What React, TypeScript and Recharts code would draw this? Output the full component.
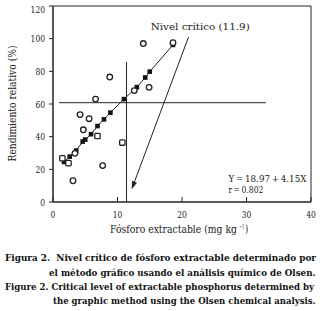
import { ReferenceArea, ReferenceDot, ReferenceLine, Scatter, ScatterChart, XAxis, YAxis } from "recharts";

const serif = "'DejaVu Serif', serif";
const ink = "#222";

const xTicks = [0, 10, 20, 30, 40];
const yTicks = [0, 20, 40, 60, 80, 100, 120];

// observed points (open circles)
const circleX = [14.0, 18.6, 8.8, 6.6, 12.6, 14.9, 4.2, 5.6, 4.7, 3.4, 7.7, 3.1];
const circleY = [97, 97.5, 76.5, 63, 68.2, 70.2, 53.5, 51, 44.2, 29.8, 22.3, 13];

// observed points (open squares)
const squareX = [1.45, 2.4, 6.9, 10.75];
const squareY = [26.8, 23.8, 40.4, 36.4];

// fitted values on the regression line
const fitX = [1.7, 2.6, 3.6, 4.6, 5.0, 5.9, 6.9, 7.9, 8.9, 11.0, 13.0, 14.3, 15.0, 18.6];
const fitY = [24.5, 27.8, 31.5, 37, 38.2, 41.5, 46.5, 50.6, 54.7, 63, 70.3, 76.2, 79.8, 96.2];

// critical level guide lines and arrow
const critX = 11.4;
const critTop = 85.7;
const critY = 60.8;
const hLineFrom = 0.93;
const hLineTo = 33;
const arrowFrom = { x: 21, y: 100.9 };
const arrowTo = { x: 12.2, y: 7.8 };

const pts = (xs: number[], ys: number[]) => xs.map((x, i) => ({ x, y: ys[i] }));
const circles = pts(circleX, circleY);
const squares = pts(squareX, squareY);
const fitted = pts(fitX, fitY);

const OpenCircle = (p: any) => (
  <circle cx={p.cx} cy={p.cy} r={2.8} fill="#fff" stroke={ink} strokeWidth={1.3} />
);
const OpenSquare = (p: any) => (
  <rect x={p.cx - 2.7} y={p.cy - 2.7} width={5.4} height={5.4} rx={1} fill="#fff" stroke={ink} strokeWidth={1.3} />
);
const FilledSquare = (p: any) => (
  <rect x={p.cx - 2.3} y={p.cy - 2.3} width={4.6} height={4.6} fill="#111" />
);

const Arrow = (p: any) => {
  const { x1, y1, x2, y2 } = p;
  const a = Math.atan2(y2 - y1, x2 - x1);
  const len = 8;
  const w = 2.6;
  const bx = x2 - len * Math.cos(a);
  const by = y2 - len * Math.sin(a);
  const nx = -Math.sin(a) * w;
  const ny = Math.cos(a) * w;
  return (
    <g>
      <line x1={x1} y1={y1} x2={bx} y2={by} stroke={ink} strokeWidth={1} />
      <polygon points={`${x2},${y2} ${bx + nx},${by + ny} ${bx - nx},${by - ny}`} fill={ink} />
    </g>
  );
};

// DejaVu Serif is much wider than the Times face of the original, so texts are squeezed to the original widths
const squeeze = { lengthAdjust: "spacingAndGlyphs" as const };

const XTick = (p: any) => {
  const s = String(p.payload.value);
  return (
    <text x={p.x} y={p.y} dy="0.71em" textAnchor="middle" fontFamily={serif} fontSize={10} fill={ink} textLength={s.length * 4.8} {...squeeze}>
      {s}
    </text>
  );
};

const YTick = (p: any) => {
  const s = String(p.payload.value);
  return (
    <text x={p.x} y={p.y} dy="0.36em" textAnchor="end" fontFamily={serif} fontSize={10} fill={ink} textLength={s.length * 4.8} {...squeeze}>
      {s}
    </text>
  );
};

const note = (text: string, width: number) => (props: any) => {
  const vb = props.viewBox;
  return (
    <text x={vb.x} y={vb.y} fontFamily={serif} fontSize={10} fill={ink} textLength={width} {...squeeze}>
      {text}
    </text>
  );
};

const YTitle = (props: any) => {
  const vb = props.viewBox;
  const cx = vb.x + 12.5;
  const cy = vb.y + vb.height / 2 - 0.5;
  return (
    <text x={cx} y={cy} dy="0.35em" textAnchor="middle" transform={`rotate(-90 ${cx} ${cy})`} fontFamily={serif} fontSize={10.5} fill={ink} textLength={116} {...squeeze}>
      Rendimiento relativo (%)
    </text>
  );
};

const XTitle = (props: any) => {
  const vb = props.viewBox;
  const x0 = vb.x + 57;
  const y0 = vb.y + 31.3;
  return (
    <g fontFamily={serif} fill={ink}>
      <text x={x0} y={y0} fontSize={10.5} textLength={127} {...squeeze}>
        Fósforo extractable (mg kg
      </text>
      <text x={x0 + 129.5} y={y0 - 4.5} fontSize={7} textLength={5} {...squeeze}>
        −1
      </text>
      <text x={x0 + 135} y={y0} fontSize={10.5} textLength={3.2} {...squeeze}>
        )
      </text>
    </g>
  );
};

const captionLines = [
  { text: "Figura 2.\u00a0 Nivel crítico de fósforo extractable determinado por", x: 5, width: 311, y: 21 },
  { text: "el método gráfico usando el análisis químico de Olsen.", x: 49, width: 266.5, y: 36 },
  { text: "Figure 2. Critical level of extractable phosphorus determined by", x: 5, width: 309, y: 50 },
  { text: "the graphic method using the Olsen chemical analysis.", x: 53, width: 262.5, y: 64 },
];

export default function App() {
  return (
    <div style={{ position: "absolute", left: 0, top: 0, width: 320, height: 311, background: "#fff" }}>
      <ScatterChart width={320} height={240} margin={{ top: 6, right: 9, bottom: 0, left: 0 }}>
        <XAxis
          type="number"
          dataKey="x"
          domain={[0, 40]}
          ticks={xTicks}
          tickSize={-5}
          tickMargin={14}
          height={38}
          stroke={ink}
          tick={XTick}
          label={{ content: XTitle }}
        />
        <YAxis
          type="number"
          dataKey="y"
          domain={[0, 120]}
          ticks={yTicks}
          tickSize={4}
          tickMargin={4}
          width={53}
          stroke={ink}
          tick={YTick}
          label={{ content: YTitle }}
        />
        <ReferenceArea x1={0} x2={40} y1={0} y2={120} fill="none" stroke={ink} strokeWidth={1} />
        <ReferenceLine segment={[{ x: critX, y: 0 }, { x: critX, y: critTop }]} stroke={ink} strokeWidth={1} />
        <ReferenceLine segment={[{ x: hLineFrom, y: critY }, { x: hLineTo, y: critY }]} stroke={ink} strokeWidth={1} />
        <ReferenceLine segment={[arrowFrom, arrowTo]} shape={Arrow} />
        <Scatter data={fitted} shape={FilledSquare} line={{ stroke: ink, strokeWidth: 1 }} lineType="joint" isAnimationActive={false} />
        <Scatter data={circles} shape={OpenCircle} isAnimationActive={false} />
        <Scatter data={squares} shape={OpenSquare} isAnimationActive={false} />
        <ReferenceDot x={15.15} y={105.3} r={0} label={{ content: note("Nivel crítico (11.9)", 99) }} />
        <ReferenceDot x={27.2} y={12.1} r={0} label={{ content: note("Y\u2009=\u200918.97\u2009+\u20094.15X", 78) }} />
        <ReferenceDot x={27.2} y={5.3} r={0} label={{ content: note("r\u2009=\u20090.802", 35) }} />
      </ScatterChart>
      <svg width={320} height={71} style={{ position: "absolute", left: 0, top: 240 }}>
        {captionLines.map((l, i) => (
          <text key={i} x={l.x} y={l.y} fontFamily={serif} fontWeight="bold" fontSize={9} fill="#111" textLength={l.width} {...squeeze}>
            {l.text}
          </text>
        ))}
      </svg>
    </div>
  );
}
